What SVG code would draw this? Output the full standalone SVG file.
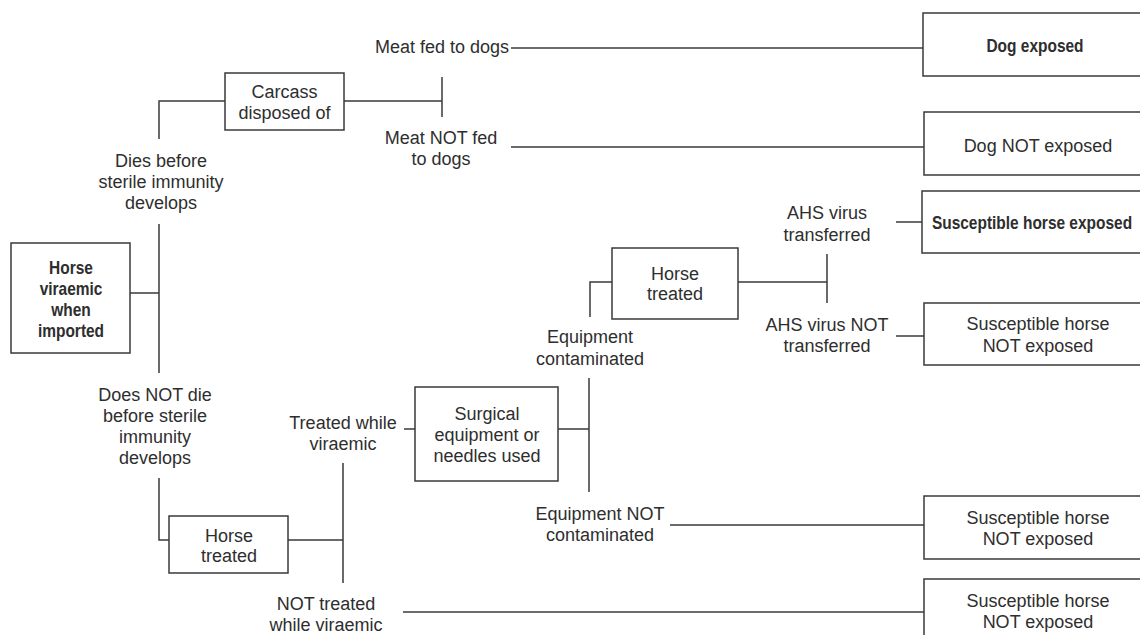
<svg xmlns="http://www.w3.org/2000/svg" width="1140" height="635" viewBox="0 0 1140 635">
  <style>
    .box { fill: #ffffff; stroke: #3a3a3a; stroke-width: 1.5; }
    .wire { fill: none; stroke: #3a3a3a; stroke-width: 1.5; }
    text { font-family: "Liberation Sans", Arial, sans-serif; font-size: 18px; fill: #2e2e2e; text-anchor: middle; }
    .b { font-weight: bold; }
  </style>
  <rect width="1140" height="635" fill="#ffffff"/>

  <!-- branch lines -->
  <g id="connectors">
    <path class="wire" d="M130 293 H159 M159 224 V373"/>
    <path class="wire" d="M159 139 V101 H225"/>
    <path class="wire" d="M344 101 H442 M442 77 V117"/>
    <path class="wire" d="M511 48 H923"/>
    <path class="wire" d="M511 147 H924"/>
    <path class="wire" d="M159 478 V540 H169"/>
    <path class="wire" d="M288 540 H343 M343 463 V583"/>
    <path class="wire" d="M404 429 H415"/>
    <path class="wire" d="M403 612 H924"/>
    <path class="wire" d="M558 429 H589 M589 378 V492"/>
    <path class="wire" d="M670 525 H924"/>
    <path class="wire" d="M590 317 V282 H612"/>
    <path class="wire" d="M738 282 H827 M827 254 V303"/>
    <path class="wire" d="M896 222 H922"/>
    <path class="wire" d="M896 336 H924"/>
  </g>

  <!-- branch labels -->
  <g id="labels">
    <text x="442" y="53">Meat fed to dogs</text>
    <text x="441" y="144">Meat NOT fed<tspan x="441" dy="21">to dogs</tspan></text>
    <text x="161" y="167">Dies before<tspan x="161" dy="21">sterile immunity</tspan><tspan x="161" dy="21">develops</tspan></text>
    <text x="155" y="401">Does NOT die<tspan x="155" dy="21">before sterile</tspan><tspan x="155" dy="21">immunity</tspan><tspan x="155" dy="21">develops</tspan></text>
    <text x="343" y="429">Treated while<tspan x="343" dy="21">viraemic</tspan></text>
    <text x="326" y="610">NOT treated<tspan x="326" dy="21">while viraemic</tspan></text>
    <text x="590" y="343">Equipment<tspan x="590" dy="22">contaminated</tspan></text>
    <text x="600" y="520">Equipment NOT<tspan x="600" dy="21">contaminated</tspan></text>
    <text x="827" y="219">AHS virus<tspan x="827" dy="22">transferred</tspan></text>
    <text x="827" y="331">AHS virus NOT<tspan x="827" dy="21">transferred</tspan></text>
  </g>

  <!-- bold labels use a narrowed bold face -->
  <g id="horse-viraemic">
    <rect class="box" x="11" y="243" width="119" height="110"/>
    <g transform="translate(71 0) scale(0.86 1)">
      <text class="b" x="0" y="274">Horse</text>
      <text class="b" x="0" y="295">viraemic</text>
      <text class="b" x="0" y="316">when</text>
      <text class="b" x="0" y="337">imported</text>
    </g>
  </g>

  <g id="carcass">
    <rect class="box" x="225" y="73" width="119" height="57"/>
    <text x="284.5" y="98">Carcass<tspan x="284.5" dy="21">disposed of</tspan></text>
  </g>

  <g id="dog-exposed">
    <rect class="box" x="923" y="13" width="230" height="63"/>
    <text class="b" transform="translate(1035 52) scale(0.86 1)" x="0" y="0">Dog exposed</text>
  </g>

  <g id="dog-not-exposed">
    <rect class="box" x="924" y="112" width="230" height="63"/>
    <text x="1038" y="152">Dog NOT exposed</text>
  </g>

  <g id="horse-treated-lower">
    <rect class="box" x="169" y="516" width="119" height="57"/>
    <text x="229" y="542">Horse<tspan x="229" dy="20">treated</tspan></text>
  </g>

  <g id="surgical-equipment">
    <rect class="box" x="415" y="387" width="143" height="94"/>
    <text x="487" y="420">Surgical<tspan x="487" dy="21">equipment or</tspan><tspan x="487" dy="21">needles used</tspan></text>
  </g>

  <g id="horse-treated-upper">
    <rect class="box" x="612" y="248" width="126" height="71"/>
    <text x="675" y="280">Horse<tspan x="675" dy="20">treated</tspan></text>
  </g>

  <g id="susceptible-exposed">
    <rect class="box" x="922" y="191" width="230" height="62"/>
    <text class="b" transform="translate(1032 229) scale(0.86 1)" x="0" y="0">Susceptible horse exposed</text>
  </g>

  <g id="susceptible-not-exposed-1">
    <rect class="box" x="924" y="303" width="230" height="62"/>
    <text x="1038" y="330">Susceptible horse<tspan x="1038" dy="22">NOT exposed</tspan></text>
  </g>

  <g id="susceptible-not-exposed-2">
    <rect class="box" x="924" y="496" width="230" height="63"/>
    <text x="1038" y="524">Susceptible horse<tspan x="1038" dy="21">NOT exposed</tspan></text>
  </g>

  <g id="susceptible-not-exposed-3">
    <rect class="box" x="924" y="579" width="230" height="70"/>
    <text x="1038" y="607">Susceptible horse<tspan x="1038" dy="21">NOT exposed</tspan></text>
  </g>
</svg>
